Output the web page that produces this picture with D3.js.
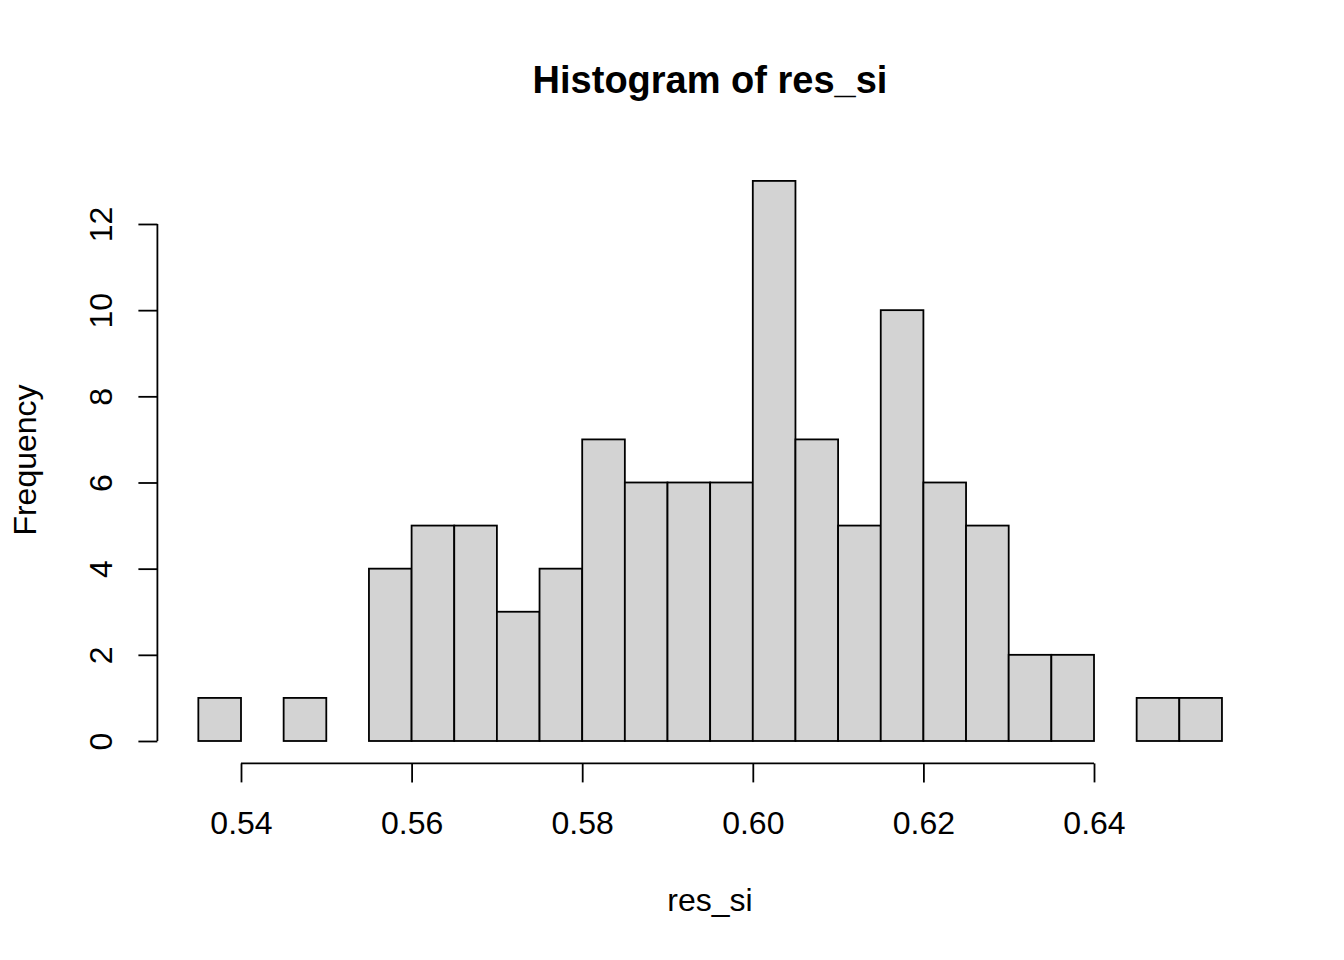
<!DOCTYPE html>
<html><head><meta charset="utf-8">
<script src="https://cdn.jsdelivr.net/npm/d3@7"></script>
<style>body{margin:0;background:#fff}</style>
</head><body>
<svg id="c" width="1344" height="960"></svg>
<script>
const binStarts = [0.535,0.540,0.545,0.550,0.555,0.560,0.565,0.570,0.575,0.580,0.585,0.590,0.595,0.600,0.605,0.610,0.615,0.620,0.625,0.630,0.635,0.640,0.645,0.650];
const counts = [1,0,1,0,4,5,5,3,4,7,6,6,6,13,7,5,10,6,5,2,2,0,1,1];
const binWidth = 0.005;
const xTicks = [0.54,0.56,0.58,0.60,0.62,0.64];
const yTicks = [0,2,4,6,8,10,12];

const svg = d3.select("#c");
const font = "'Liberation Sans', Arial, sans-serif";
const fs = 32;
const x = d3.scaleLinear().domain([0.5302, 0.6598]).range([157.4, 1262.9]);
const y = d3.scaleLinear().domain([-0.52, 13.52]).range([763.4, 158.5]);

svg.selectAll("rect.bar").data(binStarts).join("rect")
  .attr("class","bar")
  .attr("x", d => x(d))
  .attr("width", d => x(d+binWidth) - x(d))
  .attr("y", (d,i) => y(counts[i]))
  .attr("height", (d,i) => y(0) - y(counts[i]))
  .attr("fill", "#d3d3d3")
  .attr("stroke", "#000")
  .attr("stroke-width", 1.8);

// x axis
const xa = svg.append("g").attr("transform", `translate(0,${y(-0.52)})`)
  .call(d3.axisBottom(x).tickValues(xTicks).tickFormat(d3.format(".2f")).tickSize(19).tickPadding(29));
xa.select(".domain").remove();
xa.append("line").attr("x1", x(xTicks[0])).attr("x2", x(xTicks[xTicks.length-1]))
  .attr("y1",0).attr("y2",0).attr("stroke","#000").attr("stroke-width",1.8);
xa.selectAll(".tick line").attr("stroke-width",1.8);
xa.selectAll("text").attr("font-family", font).attr("font-size", fs).attr("fill","#000");

// y axis
const ya = svg.append("g").attr("transform", `translate(${x(0.5302)},0)`)
  .call(d3.axisLeft(y).tickValues(yTicks).tickSize(19).tickFormat(d3.format("d")));
ya.select(".domain").remove();
ya.append("line").attr("x1",0).attr("x2",0).attr("y1", y(0)).attr("y2", y(12))
  .attr("stroke","#000").attr("stroke-width",1.8);
ya.selectAll(".tick line").attr("stroke-width",1.8);
ya.selectAll(".tick text")
  .attr("font-family", font).attr("font-size", fs).attr("fill","#000")
  .attr("x", null)
  .attr("text-anchor","middle")
  .attr("transform", "translate(-57,0) rotate(-90)")
  .attr("dy", "0.35em");

// titles
svg.append("text").attr("x", 710).attr("y", 93).attr("text-anchor","middle")
  .attr("font-family", font).attr("font-weight","bold").attr("font-size", 38).text("Histogram of res_si");
svg.append("text").attr("x", 710).attr("y", 911).attr("text-anchor","middle")
  .attr("font-family", font).attr("font-size", fs).text("res_si");
svg.append("text").attr("transform","translate(36,460) rotate(-90)").attr("text-anchor","middle")
  .attr("font-family", font).attr("font-size", fs).text("Frequency");
</script>
</body></html>
